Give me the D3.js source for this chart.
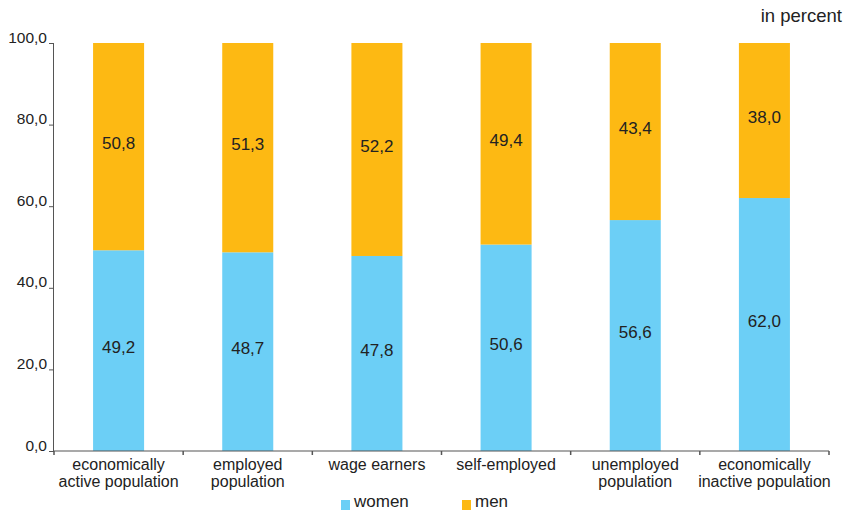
<!DOCTYPE html>
<html><head><meta charset="utf-8">
<script src="https://cdn.jsdelivr.net/npm/d3@7"></script>
<style>body{margin:0;background:#fff}svg{display:block}text{font-family:"Liberation Sans",Arial,sans-serif;fill:#222}</style>
</head><body><svg id="c" width="849" height="512"></svg>
<script>
const categories = [["economically","active population"],["employed","population"],["wage earners"],["self-employed"],["unemployed","population"],["economically","inactive population"]];
const women = [49.2, 48.7, 47.8, 50.6, 56.6, 62.0];
const men = [50.8, 51.3, 52.2, 49.4, 43.4, 38.0];
const yTicks = [0, 20, 40, 60, 80, 100];
const seriesNames = ["women", "men"];
const colors = ["#6ccff6", "#fdb913"];

const svg = d3.select("#c");
const x0 = 54, x1 = 829, yb = 451, yt = 43;
const idx = categories.map((d,i)=>i);
const x = d3.scaleBand().domain(idx).range([x0, x1]);
const y = d3.scaleLinear().domain([0, 100]).range([yb, yt]);
const fmt = v => v.toFixed(1).replace(".", ",");
const bw = x.step() * 0.395;

const data = idx.map(i => ({i, w: women[i], m: men[i]}));
const stack = d3.stack().keys(["w","m"])(data);

stack.forEach((layer, li) => {
  svg.append("g").selectAll("rect").data(layer).join("rect")
    .attr("x", d => x(d.data.i) + x.bandwidth()/2 - bw/2)
    .attr("width", bw)
    .attr("y", d => y(d[1]))
    .attr("height", d => y(d[0]) - y(d[1]))
    .attr("fill", colors[li]);
  svg.append("g").selectAll("text").data(layer).join("text")
    .attr("x", d => x(d.data.i) + x.bandwidth()/2)
    .attr("y", d => (y(d[0]) + y(d[1]))/2 + 2.5)
    .attr("text-anchor", "middle")
    .style("font-size", "17px")
    .text(d => fmt(d[1]-d[0]));
});

// y axis
const ya = svg.append("g").attr("transform", `translate(${x0},0)`)
  .call(d3.axisLeft(y).tickValues(yTicks).tickSize(5).tickFormat(fmt));
ya.select(".domain").attr("stroke", "#555").attr("d", `M-0.5,${yt}V${yb}`);
ya.selectAll(".tick line").attr("stroke", "#555");
ya.selectAll(".tick text").attr("dy", "-1").attr("x", -7).style("font-size", "15.5px").style("font-family", "Liberation Sans, Arial, sans-serif").attr("fill", "#222");

// x axis
const xa = svg.append("g").attr("transform", `translate(0,${yb})`);
xa.append("line").attr("x1", x0).attr("x2", x1).attr("stroke", "#555").attr("stroke-width", 1.2);
const bounds = idx.map(i => x(i)).concat([x1]);
xa.selectAll("line.t").data(bounds).join("line").attr("class","t")
  .attr("x1", d => d).attr("x2", d => d).attr("y1", 0).attr("y2", 4).attr("stroke", "#555").attr("stroke-width", 1.5);
const lbl = xa.selectAll("text.c").data(idx).join("text").attr("class","c")
  .attr("text-anchor", "middle").style("font-size", "16px");
lbl.each(function(i){
  const t = d3.select(this);
  categories[i].forEach((s, k) => {
    t.append("tspan").attr("x", x(i) + x.bandwidth()/2).attr("y", 19 + k*17).text(s);
  });
});

// unit label
svg.append("text").attr("x", 842).attr("y", 22).attr("text-anchor", "end").style("font-size", "18.5px").text("in percent");

// legend
const legX = [341, 462];
seriesNames.forEach((n, k) => {
  svg.append("rect").attr("x", legX[k]).attr("y", 500).attr("width", 9).attr("height", 10).attr("fill", colors[k]);
  svg.append("text").attr("x", legX[k] + 13).attr("y", 507).style("font-size", "17px").text(n);
});
</script></body></html>
